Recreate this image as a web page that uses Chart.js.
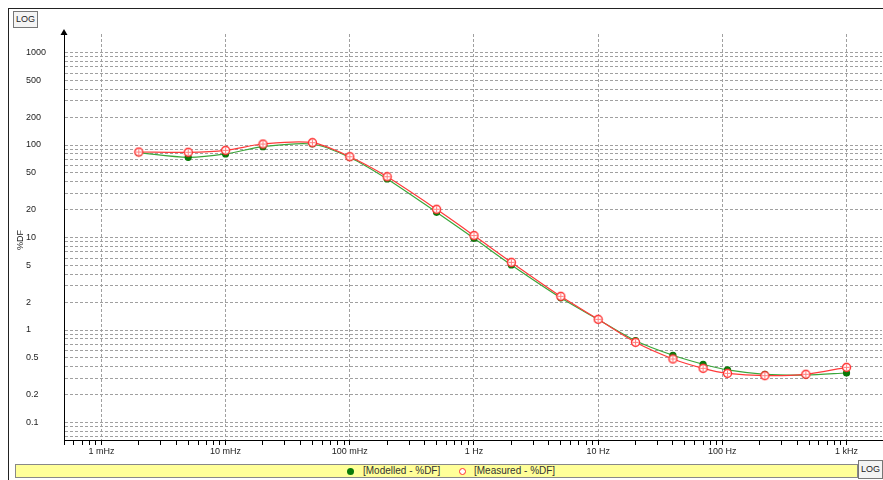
<!DOCTYPE html>
<html>
<head>
<meta charset="utf-8">
<script src="https://cdn.jsdelivr.net/npm/chart.js@4/dist/chart.umd.min.js"></script>
<style>
  html, body { margin:0; padding:0; background:#fff; }
  body { width:883px; height:480px; position:relative; overflow:hidden; font-family:"Liberation Sans", Arial, sans-serif; }
  #frame { position:absolute; left:8px; top:8px; width:900px; height:480px; border-left:1px solid #222; border-top:1px solid #222; }
  #wrap { position:absolute; left:0; top:0; width:883px; height:480px; }
  .logbox { position:absolute; border:1px solid #777; background:#f4f4f4; font-size:9px; color:#222; text-align:center; box-sizing:border-box; }
  #ytitle { position:absolute; left:20px; top:240px; transform:translate(-50%,-50%) rotate(-90deg); font-size:9px; color:#222; white-space:nowrap; }
  #legend { position:absolute; left:15px; top:464px; width:843px; height:14px; background:#ffff99; border:1px solid #888; box-sizing:border-box; font-size:10px; color:#333; }
  .li { position:absolute; top:0px; line-height:12px; white-space:nowrap; }
  .mk { position:absolute; top:3px; width:7px; height:7px; border-radius:50%; box-sizing:border-box; }
</style>
</head>
<body>
<div id="frame"></div>
<div id="wrap"><canvas id="c" width="883" height="480"></canvas></div>
<div class="logbox" style="left:13px;top:11px;width:25px;height:17px;line-height:15px;">LOG</div>
<div class="logbox" style="left:858px;top:460px;width:25px;height:19px;line-height:17px;">LOG</div>
<div id="ytitle">%DF</div>
<div id="legend">
  <div class="mk" style="left:331px;background:#0a7a0a;"></div>
  <div class="li" style="left:347px;">[Modelled - %DF]</div>
  <div class="mk" style="left:443px;background:#fff;border:1.5px solid #ff3030;"></div>
  <div class="li" style="left:458px;">[Measured - %DF]</div>
</div>
<script>
// ---- data ----
const frequencies = [0.002, 0.005, 0.01, 0.02, 0.05, 0.1, 0.2, 0.5, 1, 2, 5, 10, 20, 40, 70, 110, 220, 470, 1000];
const modelledDF = [82.6, 73.6, 80, 95.9, 102.5, 73.3, 42.9, 18.7, 9.8, 5.05, 2.23, 1.30, 0.766, 0.533, 0.426, 0.370, 0.332, 0.326, 0.343];
const measuredDF = [84, 83.4, 87.6, 102.5, 106, 74.7, 45.4, 20.2, 10.5, 5.39, 2.31, 1.305, 0.736, 0.486, 0.385, 0.340, 0.321, 0.332, 0.395];

const xTickValues = [0.001, 0.01, 0.1, 1, 10, 100, 1000];
const xTickLabels = ['1 mHz', '10 mHz', '100 mHz', '1 Hz', '10 Hz', '100 Hz', '1 kHz'];
const yTickValues = [0.1, 0.2, 0.5, 1, 2, 5, 10, 20, 50, 100, 200, 500, 1000];
const yTickLabels = ['0.1', '0.2', '0.5', '1', '2', '5', '10', '20', '50', '100', '200', '500', '1000'];

const xMin = 0.0005, xMax = 1930;
const yMin = 0.0647, yMax = 1585;

// minor (1..9 x 10^n) values within a range
function minorValues(lo, hi) {
  const out = [];
  for (let e = Math.floor(Math.log10(lo)); e <= Math.ceil(Math.log10(hi)); e++) {
    for (let m = 1; m <= 9; m++) {
      const v = parseFloat((m * Math.pow(10, e)).toPrecision(6));
      if (v >= lo && v <= hi) out.push(v);
    }
  }
  return out;
}
function findIndex(arr, v) {
  for (let i = 0; i < arr.length; i++) if (Math.abs(arr[i] - v) / arr[i] < 1e-6) return i;
  return -1;
}

// measured marker: circle with cross
function makeMeasuredMarker() {
  const c = document.createElement('canvas');
  c.width = 11; c.height = 11;
  const g = c.getContext('2d');
  g.beginPath(); g.arc(5.5, 5.5, 4, 0, Math.PI * 2);
  g.fillStyle = '#ffffff'; g.fill();
  g.lineWidth = 1.4; g.strokeStyle = '#ff3030'; g.stroke();
  g.lineWidth = 1; g.strokeStyle = '#ff8080';
  g.beginPath(); g.moveTo(5.5, 2.5); g.lineTo(5.5, 8.5); g.moveTo(2.5, 5.5); g.lineTo(8.5, 5.5); g.stroke();
  return c;
}

const arrowPlugin = {
  id: 'arrow',
  afterDraw(chart) {
    const ctx = chart.ctx, a = chart.chartArea;
    ctx.save();
    ctx.fillStyle = '#000';
    ctx.beginPath();
    ctx.moveTo(a.left, a.top - 5);
    ctx.lineTo(a.left - 3.5, a.top + 1);
    ctx.lineTo(a.left + 3.5, a.top + 1);
    ctx.closePath();
    ctx.fill();
    ctx.restore();
  }
};

new Chart(document.getElementById('c'), {
  type: 'line',
  data: {
    datasets: [
      {
        label: '[Modelled - %DF]',
        data: frequencies.map((f, i) => ({ x: f, y: modelledDF[i] })),
        borderColor: '#3aa63a',
        borderWidth: 1.2,
        backgroundColor: '#0a7a0a',
        pointBackgroundColor: '#0a7a0a',
        pointBorderColor: '#0a7a0a',
        pointRadius: 3,
        pointStyle: 'circle',
        tension: 0.3,
        order: 2
      },
      {
        label: '[Measured - %DF]',
        data: frequencies.map((f, i) => ({ x: f, y: measuredDF[i] })),
        borderColor: '#ff3a3a',
        borderWidth: 1.2,
        pointStyle: makeMeasuredMarker(),
        pointRadius: 5,
        tension: 0.3,
        order: 1
      }
    ]
  },
  options: {
    responsive: false,
    animation: false,
    layout: { autoPadding: false, padding: { left: 26, top: 34, right: 1, bottom: 0 } },
    plugins: { legend: { display: false }, tooltip: { enabled: false } },
    scales: {
      x: {
        type: 'logarithmic',
        min: xMin, max: xMax,
        afterBuildTicks(scale) { scale.ticks = minorValues(xMin, xMax).map(v => ({ value: v })); },
        afterFit(scale) { scale.height = 40; scale.paddingLeft = 0; scale.paddingRight = 0; },
        grid: {
          color: (ctx) => (ctx.tick && findIndex(xTickValues, ctx.tick.value) >= 0) ? '#a0a0a0' : 'rgba(0,0,0,0)',
          tickColor: '#000',
          tickLength: 5,
          tickBorderDash: [],
          lineWidth: 1
        },
        border: { color: '#000', width: 1, dash: [3, 2] },
        ticks: {
          autoSkip: false, maxRotation: 0, minRotation: 0, padding: 1,
          color: '#222',
          font: { family: 'Liberation Sans', size: 9 },
          callback(value) { const i = findIndex(xTickValues, value); return i >= 0 ? xTickLabels[i] : ''; }
        }
      },
      y: {
        type: 'logarithmic',
        min: yMin, max: yMax,
        afterBuildTicks(scale) { scale.ticks = minorValues(0.07, 1000).map(v => ({ value: v })); },
        afterFit(scale) { scale.width = 38; scale.paddingTop = 0; scale.paddingBottom = 0; },
        grid: { color: '#a0a0a0', drawTicks: false, lineWidth: 1 },
        border: { color: '#000', width: 1, dash: [3, 2] },
        ticks: {
          autoSkip: false, crossAlign: 'far', padding: 0,
          color: '#222',
          font: { family: 'Liberation Sans', size: 9 },
          callback(value) { const i = findIndex(yTickValues, value); return i >= 0 ? yTickLabels[i] : ''; }
        }
      }
    }
  },
  plugins: [arrowPlugin]
});
</script>
</body>
</html>
